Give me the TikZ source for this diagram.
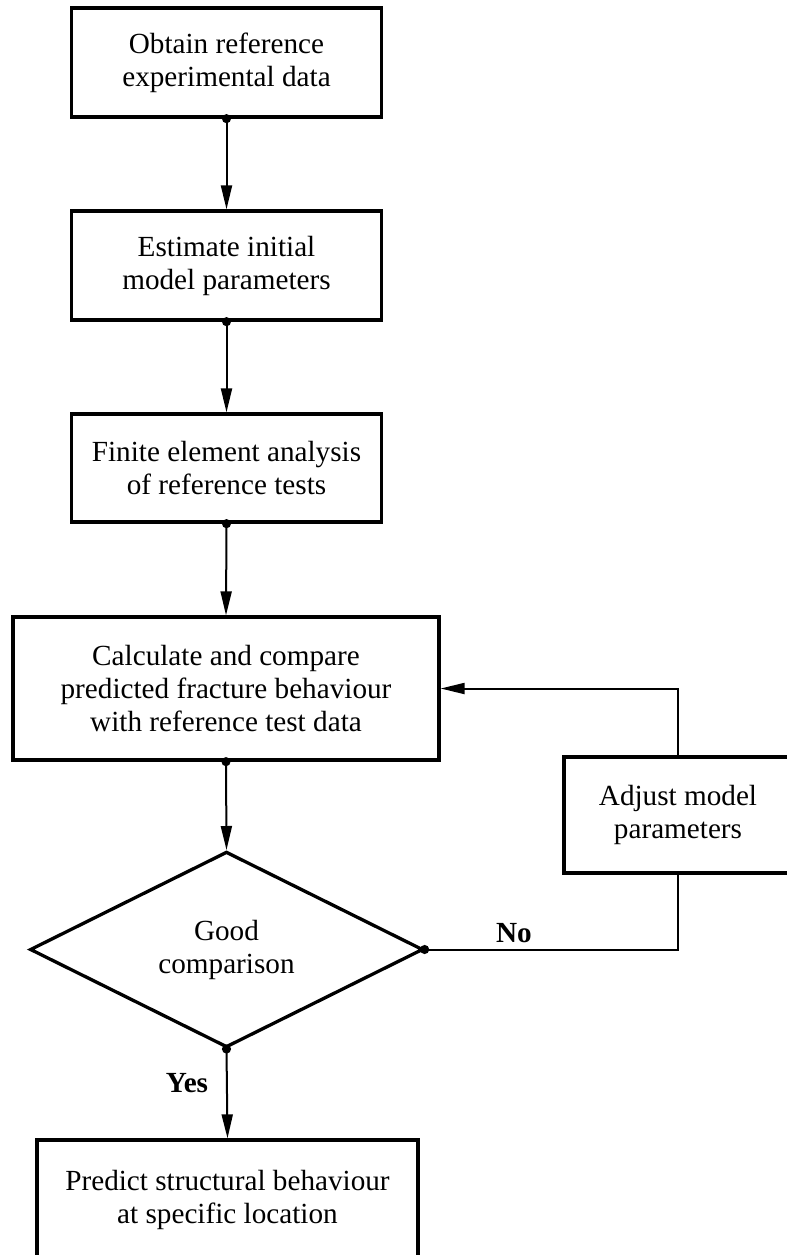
\documentclass[tikz,border=0pt]{standalone}
\usepackage{fontspec}
\setmainfont{Liberation Serif}
\usepackage{tikz}
\usetikzlibrary{arrows.meta,
	shapes.geometric
}
\tikzset{Flowchart/.style = {
		x=0.5pt, y=-0.5pt,
		every node/.style = {font=\fontsize{14.6}{16.5}\selectfont, align=center, inner sep=0pt},
		process/.style = {rectangle, draw, line width=1.65pt},
		decision/.style = {diamond, draw, line width=1.65pt},
		branch/.style = {font=\fontsize{14.6}{16.5}\selectfont\bfseries},
		flow/.style = {line width=1pt, -{Triangle[length=12pt,width=5.5pt]}},
		dotflow/.style = {line width=1pt, {Circle[length=4.5pt]}-{Triangle[length=12pt,width=5.5pt]},
			shorten <=-2.25pt},
		dotline/.style = {line width=1pt, {Circle[length=4.5pt]}-, shorten <=-2.25pt}
	}% end of Flowchart style
}

\begin{document}
\begin{tikzpicture}[Flowchart]
  \useasboundingbox (0,0) rectangle (787,1255);

  \node[process, minimum width=155pt, minimum height=54.5pt] (obtain) at (226.5,62.5) {Obtain reference\\experimental data};
  \node[process, minimum width=155pt, minimum height=54.5pt] (estimate) at (226.5,265.5) {Estimate initial\\model parameters};
  \node[process, minimum width=155pt, minimum height=54pt] (fea) at (226.5,468) {Finite element analysis\\of reference tests};
  \node[process, minimum width=213pt, minimum height=71.5pt] (compare) at (226,688.5) {Calculate and compare\\predicted fracture behaviour\\with reference test data};
  \node[decision, minimum width=196.5pt, minimum height=96.5pt] (decide) at (226.5,949.5) {Good\\comparison};
  \node[process, minimum width=114pt, minimum height=58pt] (adjust) at (678,815) {Adjust model\\parameters};
  \node[process, minimum width=190.5pt, minimum height=60pt] (predict) at (227.5,1200) {Predict structural behaviour\\at specific location};

  \node[branch] (yes) at (187,1083) {Yes};
  \node[branch] (no) at (514,933) {No};

  \draw[dotflow] (obtain.south) -- (estimate.north);
  \draw[dotflow] (estimate.south) -- (fea.north);
  \draw[dotflow] (fea.south) -- (compare.north);
  \draw[dotflow] (compare.south) -- (decide.north);
  \draw[dotflow] (decide.south) -- (predict.north);
  \draw[dotline] (decide.east) -- (decide.east -| adjust.south) -- (adjust.south);
  \draw[flow] (adjust.north) |- (compare.east);
\end{tikzpicture}
\end{document}
